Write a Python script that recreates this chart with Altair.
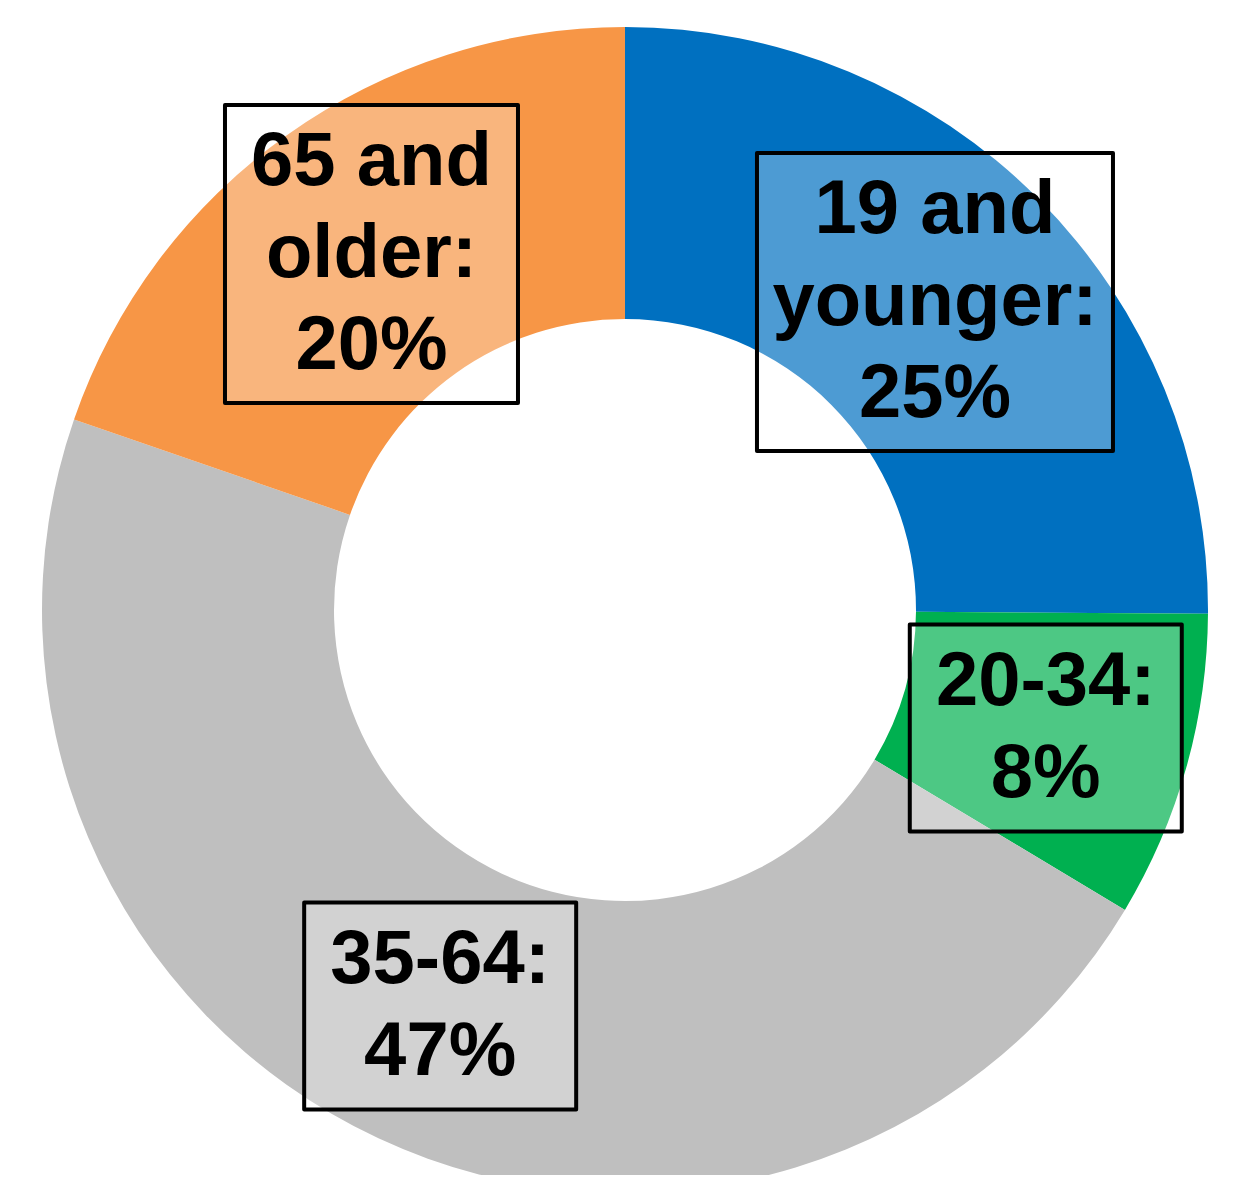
import altair as alt
import pandas as pd

# Data
groups = ["19 and younger", "20-34", "35-64", "65 and older"]
shares = [25.1, 8.5, 46.7, 19.7]
label_texts = ["19 and\nyounger:\n25%", "20-34:\n8%", "35-64:\n47%", "65 and\nolder:\n20%"]
order_idx = [0, 1, 2, 3]

# Styles
colors = ["#0070C0", "#00B050", "#BFBFBF", "#F79646"]
box_shapes = [
    "M-0.89,-0.745H0.89V0.745H-0.89Z",
    "M-0.68,-0.5175H0.68V0.5175H-0.68Z",
    "M-0.68,-0.5175H0.68V0.5175H-0.68Z",
    "M-0.7325,-0.745H0.7325V0.745H-0.7325Z",
]

W, H = 1218, 1167
CX, CY = 617, 602
R_OUT, R_IN, R_LAB = 583, 291, 437
LINE_H = 92

df = pd.DataFrame({"group": groups, "share": shares, "label": label_texts, "idx": order_idx})

base = alt.Chart(df)

arcs = base.mark_arc(innerRadius=R_IN, outerRadius=R_OUT, strokeWidth=0).encode(
    theta=alt.Theta("share:Q", stack=True),
    order=alt.Order("idx:Q"),
    color=alt.Color("group:N", scale=alt.Scale(domain=groups, range=colors), legend=None),
    x=alt.value(CX),
    y=alt.value(CY),
)

pos = base.transform_window(
    cum="sum(share)", sort=[alt.SortField("idx")]
).transform_joinaggregate(
    total="sum(share)"
).transform_calculate(
    ang="2*PI*(datum.cum - datum.share/2)/datum.total",
    nlines="length(split(datum.label, '\\n'))",
).transform_calculate(
    px=f"{R_LAB}*sin(datum.ang)",
    py=f"{R_LAB}*cos(datum.ang)",
).transform_calculate(
    ty=f"datum.py + (datum.nlines - 1) * {LINE_H} / 2",
)

xs = alt.X("px:Q", scale=alt.Scale(domain=[-CX, W - CX]), axis=None)
ys = alt.Y("py:Q", scale=alt.Scale(domain=[-(H - CY), CY]), axis=None)
yt = alt.Y("ty:Q", scale=alt.Scale(domain=[-(H - CY), CY]), axis=None)

boxes = pos.mark_point(
    filled=True, fill="white", fillOpacity=0.3, stroke="black", strokeWidth=4,
    size=160000, opacity=1, strokeJoin="round"
).encode(
    x=xs, y=ys,
    shape=alt.Shape("group:N", scale=alt.Scale(domain=groups, range=box_shapes), legend=None),
)

texts = pos.mark_text(
    font="Liberation Sans", fontWeight="bold", fontSize=76, lineHeight=LINE_H,
    lineBreak="\n", color="black", align="center", baseline="middle"
).encode(
    x=xs, y=yt,
    text="label:N",
)

chart = alt.layer(arcs, boxes, texts).properties(
    width=W, height=H, autosize=alt.AutoSizeParams(type="none"), padding=0,
    background="white"
).configure_view(strokeWidth=0)

chart.save("out.html", embed_options={"renderer": "svg", "actions": False})
